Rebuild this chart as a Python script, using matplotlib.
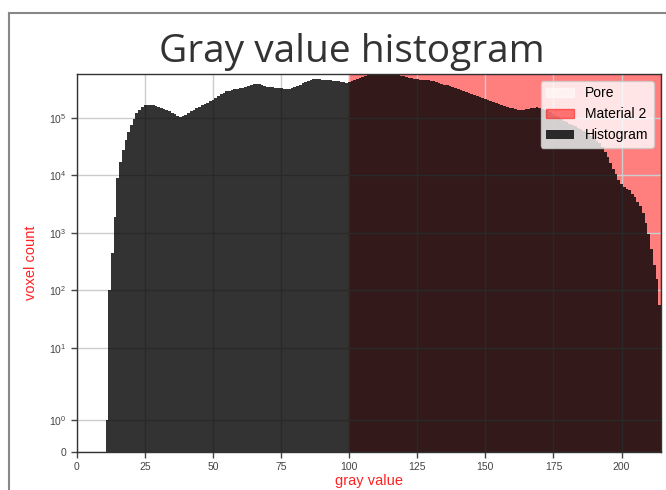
import numpy as np
import matplotlib
matplotlib.use('Agg')
import matplotlib.pyplot as plt
from matplotlib.lines import Line2D

# histogram counts per gray value (one bin per integer gray value)
gray_values = np.arange(11, 215)
counts = np.array([
    1, 100, 450, 1900, 9000, 17000, 28000, 41000, 58000, 76000,
    95000, 120000, 140000, 157000, 168000, 170000, 168000, 165000, 160000, 155000,
    150000, 145000, 138000, 130000, 122000, 115000, 110000, 106000, 108000, 113000,
    122000, 132000, 140000, 148000, 157000, 165000, 175000, 185000, 195000, 206000,
    220000, 238000, 258000, 275000, 290000, 300000, 310000, 318000, 325000, 330000,
    338000, 350000, 360000, 372000, 385000, 390000, 385000, 372000, 360000, 350000,
    345000, 340000, 335000, 330000, 328000, 325000, 322000, 320000, 330000, 345000,
    360000, 380000, 400000, 425000, 445000, 460000, 468000, 472000, 470000, 465000,
    460000, 455000, 450000, 445000, 440000, 435000, 425000, 415000, 405000, 420000,
    440000, 460000, 480000, 500000, 520000, 535000, 550000, 562000, 572000, 578000,
    580000, 582000, 582000, 580000, 578000, 572000, 565000, 555000, 545000, 535000,
    520000, 505000, 490000, 475000, 468000, 462000, 458000, 455000, 450000, 442000,
    432000, 420000, 405000, 392000, 380000, 368000, 355000, 342000, 330000, 318000,
    304000, 292000, 280000, 270000, 260000, 250000, 240000, 230000, 220000, 212000,
    204000, 196000, 188000, 180000, 173000, 167000, 161000, 156000, 152000, 147000,
    143000, 139000, 137000, 138000, 141000, 145000, 149000, 152000, 154000, 150000,
    145000, 140000, 133000, 126000, 118000, 110000, 103000, 96000, 90000, 85000,
    80000, 76000, 72000, 68000, 64000, 60000, 56000, 52000, 48000, 44000,
    40000, 36000, 31000, 26000, 21000, 16500, 13000, 10500, 8300, 7000,
    6300, 5900, 5500, 4800, 4200, 3500, 2900, 2200, 1500, 950,
    520, 280, 160, 55,
])

# material thresholds
pore_range = (0, 100)
material2_range = (100, 214.5)

x_ticks = [0, 25, 50, 75, 100, 125, 150, 175, 200]
y_ticks = [0, 1, 10, 100, 1000, 10000, 100000]
y_labels = ['0'] + [r'$\mathdefault{10^{%d}}$' % i for i in range(6)]

plt.rcParams['font.family'] = ['Liberation Sans', 'DejaVu Sans']

fig = plt.figure(figsize=(6.66, 4.9), dpi=100)
ax = fig.add_axes([0.1155, 0.0776, 0.877, 0.7714])

ax.axvspan(*pore_range, color='white', alpha=0.5, label='Pore', zorder=1)
ax.axvspan(*material2_range, color='red', alpha=0.5, label='Material 2', zorder=1)

# step outline of the histogram as one filled polygon
edges = np.append(gray_values - 0.5, gray_values[-1] + 0.5)
tops = np.append(counts, counts[-1])
ax.fill_between(edges, 0, tops, step='post', facecolor='black', edgecolor='none',
                linewidth=0, alpha=0.8, label='Histogram', zorder=2,
                antialiased=False)

ax.set_yscale('symlog', linthresh=2)
ax.set_xlim(0, material2_range[1])
ax.set_ylim(0, counts.max())
ax.set_xticks(x_ticks)
ax.set_yticks(y_ticks)
ax.set_yticklabels(y_labels)
ax.yaxis.set_minor_locator(matplotlib.ticker.NullLocator())
ax.tick_params(labelsize=7.5, colors='#444444', length=4, width=1)

ax.grid(True, color='#cccccc', linewidth=1, zorder=1.5)
for s in ax.spines.values():
    s.set_color('#333333')
    s.set_linewidth(1)

ax.set_xlabel('gray value', color='#ff2222', fontsize=10.5, labelpad=1)
ax.set_ylabel('voxel count', color='#ff2222', fontsize=10.5, labelpad=8)

leg = ax.legend(loc='upper right', fontsize=10, framealpha=0.8)

fig.text(352 / 666, 1 - 62 / 490, 'Gray value histogram', ha='center',
         va='baseline', fontsize=28, color='#333333', family='Open Sans')

# screenshot frame
fig.add_artist(Line2D([9 / 666, 9 / 666], [0, 1 - 13 / 490], color='#888888', lw=1.5))
fig.add_artist(Line2D([9 / 666, 1], [1 - 13 / 490, 1 - 13 / 490], color='#888888', lw=1.5))

fig.savefig('out.png', dpi=100)
